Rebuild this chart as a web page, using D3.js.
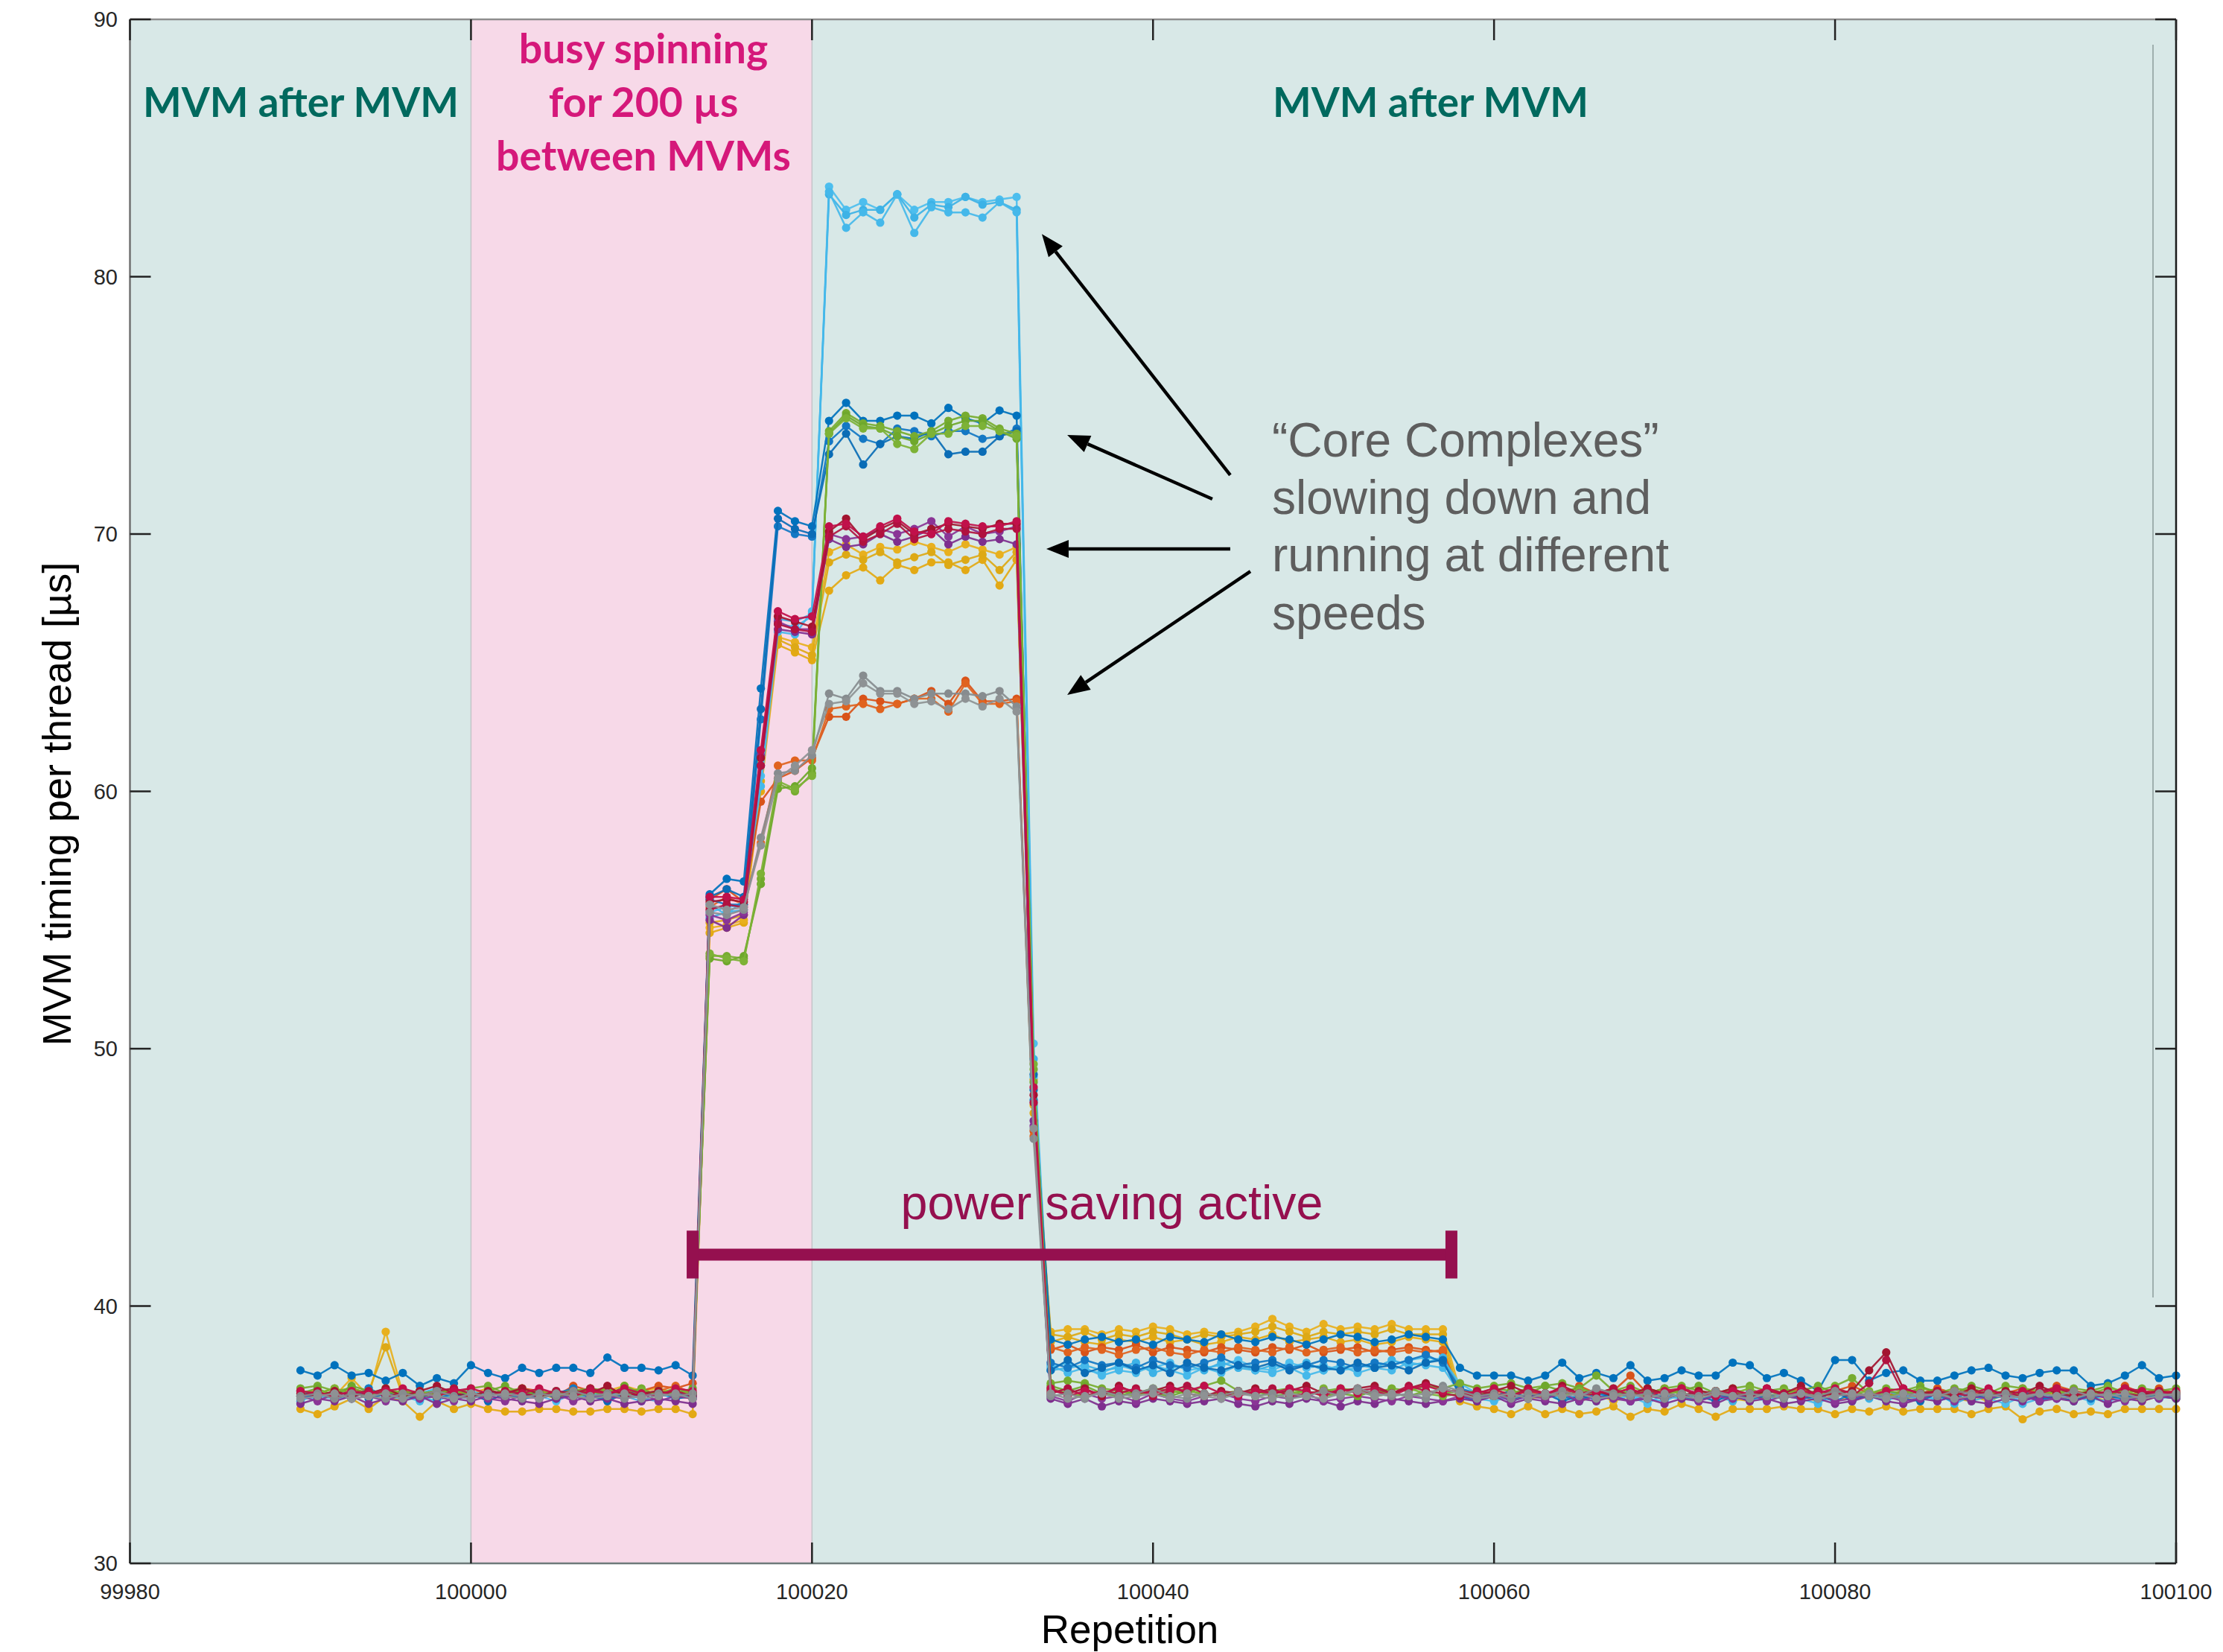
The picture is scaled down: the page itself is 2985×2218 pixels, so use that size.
<!DOCTYPE html>
<html><head><meta charset="utf-8">
<script src="https://cdn.jsdelivr.net/npm/d3@7"></script>
<style>html,body{margin:0;padding:0;background:#fff}svg{display:block}</style>
</head><body>
<script>
// ---------------- DATA ----------------
const repetitions = d3.range(99990, 100101); // 111 repetitions
const xTicks = [99980, 100000, 100020, 100040, 100060, 100080, 100100];
const yTicks = [30, 40, 50, 60, 70, 80, 90];
const spinRegion = [100000, 100020];
const powerSaving = [100013, 100057.5];

// segments: 99990-100013 | 100014-100020 | 100021-100032 | 100033 | 100034-100057 | 100058-100100
const cyanA = [36.5,36.4,36.7,36.5,36.8,36.4, 36.6,36.5,36.3,36.6,36.5,36.7, 36.4,36.6,36.5,36.3,36.6,36.5, 36.7,36.4,36.6,36.5,36.6,36.4,
  55.3,55.5,55.6,60.6,66.5,66.4,66.8,
  83.5,82.6,82.9,82.6,83.2,82.6,82.9,82.9,83.1,82.9,83.0,83.1,
  50.2,
  37.6,37.8,37.5,37.4,37.7,37.5, 37.6,37.8,37.5,37.6,37.7,37.9, 37.6,37.5,37.8,37.6,37.7,37.5, 37.6,37.8,37.7,37.9,38.0,37.9,
  37.0,36.6,36.5,36.4,36.6,36.5, 36.7,36.3,36.6,36.4,36.5,36.2, 36.6,36.5,36.7,36.4,36.6,36.5, 36.3,36.6,36.5,36.4,36.7,36.5, 36.6,36.4,36.5,36.6,36.3,36.5, 36.6,36.4,36.2,36.5,36.6,36.4, 36.5,36.3,36.6,36.5,36.4,36.6, 36.5];
const cyanB = [36.3,36.6,36.4,36.5,36.7,36.5, 36.4,36.6,36.8,36.5,36.4,36.6, 36.5,36.7,36.4,36.6,36.5,36.4, 36.6,36.5,36.3,36.6,36.4,36.5,
  55.1,55.3,55.4,61.0,66.7,66.6,66.9,
  83.2,82.4,82.6,82.6,83.2,82.3,82.8,82.7,83.1,82.8,82.9,82.6,
  49.6,
  37.5,37.6,37.7,37.5,37.6,37.8, 37.4,37.6,37.7,37.5,37.8,37.6, 37.5,37.7,37.6,37.8,37.5,37.6, 37.7,37.6,37.9,37.7,37.8,38.0,
  36.8,36.5,36.6,36.3,36.5,36.6, 36.4,36.5,36.7,36.5,36.3,36.6, 36.5,36.4,36.6,36.5,36.3,36.7, 36.5,36.4,36.6,36.3,36.5,36.6, 36.4,36.7,36.5,36.4,36.6,36.2, 36.5,36.6,36.4,36.5,36.3,36.6, 36.4,36.5,36.6,36.3,36.5,36.4, 36.6];
const cyanC = [36.6,36.5,36.4,36.6,36.5,36.7, 36.5,36.3,36.6,36.4,36.7,36.5, 36.6,36.4,36.5,36.7,36.4,36.6, 36.5,36.6,36.4,36.3,36.5,36.6,
  55.6,55.2,55.8,60.2,66.2,66.1,67.0,
  83.3,81.9,82.5,82.1,83.2,81.7,82.7,82.5,82.5,82.3,82.9,82.5,
  48.9,
  37.7,37.4,37.6,37.3,37.5,37.4, 37.7,37.5,37.3,37.6,37.4,37.7, 37.5,37.4,37.6,37.3,37.5,37.7, 37.4,37.6,37.5,37.8,37.7,37.6,
  36.6,36.4,36.3,36.5,36.4,36.6, 36.5,36.7,36.3,36.6,36.5,36.4, 36.3,36.6,36.4,36.5,36.6,36.3, 36.6,36.5,36.4,36.2,36.6,36.4, 36.5,36.3,36.6,36.5,36.4,36.6, 36.3,36.5,36.6,36.2,36.4,36.5, 36.6,36.4,36.3,36.5,36.6,36.4, 36.5];
const blueA = [37.5,37.3,37.7,37.3,37.4,37.1, 37.4,36.9,37.2,37.0,37.7,37.4, 37.2,37.6,37.4,37.6,37.6,37.4, 38.0,37.6,37.6,37.5,37.7,37.3,
  56.0,56.6,56.5,64.0,70.9,70.5,70.3,
  74.4,75.1,74.4,74.4,74.6,74.6,74.3,74.9,74.5,74.3,74.8,74.6,
  48.4,
  38.7,38.5,38.7,38.8,38.6,38.7, 38.5,38.8,38.7,38.6,38.9,38.7, 38.6,38.8,38.7,38.5,38.7,38.9, 38.8,38.6,38.7,38.9,38.8,38.7,
  37.6,37.3,37.3,37.3,37.1,37.3, 37.8,37.2,37.4,37.2,37.7,37.1, 37.2,37.5,37.3,37.3,37.8,37.7, 37.2,37.4,37.1,36.7,37.9,37.9, 37.1,37.4,37.5,37.1,37.1,37.3, 37.5,37.6,37.3,37.2,37.4,37.5, 37.5,36.9,37.0,37.3,37.7,37.2, 37.3];
const blueB = [36.7,36.5,36.6,36.4,36.8,36.5, 36.6,36.7,36.4,36.6,36.5,36.7, 36.6,36.4,36.5,36.6,36.8,36.5, 36.4,36.6,36.7,36.5,36.6,36.5,
  55.8,55.6,55.6,62.8,70.3,70.0,69.9,
  73.6,74.2,73.7,73.5,74.1,74.0,73.8,74.0,74.0,73.7,73.8,74.1,
  48.0,
  37.8,37.6,37.9,37.7,37.8,37.6, 37.9,37.7,37.6,37.8,38.0,37.7, 37.8,37.9,37.6,37.7,37.9,37.8, 37.6,37.8,37.7,37.9,38.1,37.8,
  36.8,36.6,36.5,36.7,36.4,36.6, 36.5,36.3,36.6,36.5,36.7,36.4, 36.6,36.5,36.3,36.6,36.4,36.5, 36.7,36.6,36.4,36.5,36.3,36.6, 36.5,36.4,36.6,36.7,36.5,36.3, 36.6,36.4,36.5,36.6,36.3,36.5, 36.7,36.4,36.6,36.5,36.4,36.6, 36.5];
const blueC = [36.4,36.6,36.5,36.7,36.4,36.6, 36.5,36.4,36.7,36.5,36.6,36.3, 36.6,36.5,36.7,36.4,36.6,36.5, 36.3,36.6,36.5,36.7,36.4,36.5,
  55.9,56.2,55.9,63.2,70.6,70.2,70.0,
  73.1,73.9,72.7,73.5,73.8,73.7,74.0,73.1,73.2,73.2,73.8,74.0,
  49.0,
  37.5,37.9,37.4,37.6,37.8,37.5, 37.7,37.4,37.8,37.6,37.5,37.7, 37.6,37.8,37.5,37.7,37.6,37.5, 37.8,37.6,37.7,37.5,37.8,37.9,
  36.5,36.3,36.6,36.4,36.5,36.6, 36.3,36.5,36.4,36.6,36.5,36.7, 36.4,36.6,36.5,36.3,36.6,36.4, 36.5,36.6,36.4,36.5,36.7,36.3, 36.6,36.5,36.4,36.3,36.6,36.5, 36.4,36.6,36.5,36.7,36.4,36.5, 36.3,36.6,36.5,36.4,36.6,36.5, 36.4];
const greenA = [36.8,36.9,36.7,36.8,36.6,36.7, 36.5,36.6,36.7,36.6,36.8,36.9, 36.6,36.7,36.5,36.6,36.7,36.8, 36.7,36.6,36.8,36.5,36.7,36.6,
  53.6,53.6,53.5,56.6,60.3,60.0,60.7,
  74.0,74.7,74.3,74.2,74.0,73.8,74.0,74.4,74.6,74.5,74.1,73.9,
  49.2,
  37.0,37.1,37.0,36.8,36.7,36.6, 36.8,36.7,36.6,36.9,37.1,36.7, 36.6,36.7,36.8,36.6,36.7,36.8, 36.7,36.6,36.8,36.7,36.9,36.8,
  37.0,36.8,36.9,37.0,36.8,36.9, 37.0,36.8,37.3,36.7,36.9,36.6, 36.8,36.9,36.7,36.6,36.8,36.9, 36.7,36.8,36.6,36.7,36.9,37.2, 36.6,36.8,36.7,36.9,36.6,36.8, 36.7,36.6,36.9,36.8,36.7,36.6, 36.8,36.7,36.9,36.6,36.8,36.7, 36.8];
const greenB = [36.6,36.8,36.5,36.9,36.7,36.6, 36.7,36.5,36.6,36.8,36.5,36.7, 36.9,36.6,36.7,36.5,36.6,36.7, 36.5,36.9,36.6,36.7,36.6,36.8,
  53.5,53.4,53.6,56.4,60.1,60.2,60.9,
  73.9,74.6,74.2,74.1,73.8,73.6,73.9,74.2,74.4,74.4,74.0,73.7,
  48.7,
  36.9,36.7,36.9,36.6,36.5,36.7, 36.6,36.5,36.7,36.6,36.5,36.6, 36.7,36.5,36.6,36.7,36.5,36.6, 36.5,36.7,36.6,36.5,36.7,36.6,
  36.7,36.6,36.8,36.7,36.6,36.9, 36.7,36.8,36.6,36.7,36.5,36.8, 36.6,36.7,36.9,36.6,36.7,36.5, 36.8,36.6,36.7,36.9,36.6,36.7, 36.5,36.7,36.6,36.8,36.7,36.6, 36.9,36.7,36.6,36.5,36.7,36.8, 36.6,36.7,36.5,36.8,36.6,36.7, 36.6];
const greenC = [36.7,36.6,36.8,36.6,36.5,36.8, 36.6,36.7,36.5,36.7,36.6,36.5, 36.7,36.8,36.6,36.7,36.5,36.6, 36.8,36.5,36.7,36.6,36.8,36.6,
  53.7,53.5,53.4,56.8,60.4,60.1,60.6,
  73.9,74.5,74.1,74.1,73.5,73.3,73.9,73.9,74.2,74.2,74.0,73.8,
  49.4,
  36.8,36.6,36.5,36.7,36.6,36.5, 36.7,36.6,36.8,36.5,36.6,36.7, 36.5,36.6,36.7,36.5,36.8,36.6, 36.7,36.5,36.6,36.8,36.6,36.5,
  36.6,36.7,36.5,36.6,36.8,36.6, 36.5,36.7,36.6,36.8,36.6,36.5, 36.7,36.6,36.5,36.7,36.6,36.8, 36.5,36.7,36.6,36.5,36.8,36.6, 36.7,36.5,36.6,36.7,36.5,36.6, 36.8,36.6,36.7,36.5,36.6,36.7, 36.5,36.6,36.8,36.7,36.5,36.6, 36.7];
const yellowA = [36.0,35.8,36.1,36.4,36.0,36.5, 36.3,35.7,36.3,36.0,36.2,36.0, 35.9,35.9,36.0,36.0,35.9,35.9, 36.0,36.0,35.9,36.0,36.0,35.8,
  54.5,54.7,54.9,60.0,65.7,65.4,65.1,
  67.8,68.4,68.7,68.2,68.8,68.6,68.9,68.9,68.6,69.0,68.0,69.0,
  48.8,
  38.6,38.8,38.6,38.5,38.7,38.6, 38.8,38.6,38.7,38.5,38.6,38.8, 38.7,38.9,38.6,38.7,38.8,38.6, 38.7,38.5,38.6,38.8,38.7,38.6,
  36.3,36.1,36.0,35.8,36.1,35.8, 36.0,35.8,35.9,36.1,35.7,36.0, 35.9,36.2,36.0,35.7,36.0,36.0, 36.0,36.1,36.0,36.0,35.8,36.0, 35.9,36.1,35.9,36.0,36.0,36.0, 35.8,36.0,36.1,35.6,35.9,36.0, 35.8,35.9,35.8,36.0,36.0,36.0, 36.0];
const yellowB = [36.6,36.7,36.5,37.2,36.5,39.0, 36.6,36.5,36.7,36.4,36.6,36.8, 36.5,36.7,36.6,36.5,36.8,36.6, 36.7,36.9,36.7,36.8,36.6,36.5,
  54.7,54.8,55.0,61.2,66.0,65.8,65.6,
  69.3,69.6,69.2,69.5,69.4,69.7,69.5,69.3,69.6,69.4,69.2,69.5,
  47.8,
  39.0,39.1,39.1,38.9,39.1,39.0, 39.2,39.1,38.9,39.0,38.9,39.0, 39.2,39.5,39.2,39.0,39.3,39.1, 39.2,39.1,39.3,39.1,39.1,39.1,
  36.7,36.5,36.6,36.4,36.5,36.6, 36.5,36.4,36.6,36.3,36.5,36.6, 36.4,36.5,36.7,36.5,36.4,36.3, 36.6,36.5,36.4,36.6,36.3,36.5, 36.6,36.4,36.5,36.7,36.5,36.4, 36.3,36.5,36.6,36.4,36.5,36.6, 36.4,36.5,36.3,36.6,36.5,36.4, 36.6];
const yellowC = [36.5,36.6,36.8,36.6,36.7,38.4, 36.5,36.6,36.4,36.7,36.5,36.6, 36.7,36.5,36.6,36.4,36.7,36.5, 36.6,36.5,36.7,36.6,36.5,36.4,
  54.9,55.0,55.2,60.4,65.9,65.6,65.3,
  68.9,69.2,69.0,69.3,68.9,69.1,69.3,68.8,69.0,69.2,68.6,69.3,
  47.5,
  38.9,38.8,39.0,38.7,38.9,38.8, 39.0,38.9,38.7,38.9,38.8,38.9, 39.0,39.2,39.0,38.8,39.0,38.9, 39.0,38.9,39.1,38.9,38.9,38.9,
  36.4,36.6,36.5,36.7,36.4,36.5, 36.6,36.3,36.5,36.4,36.6,36.5, 36.7,36.4,36.5,36.6,36.3,36.5, 36.4,36.6,36.5,36.3,36.6,36.4, 36.5,36.6,36.4,36.5,36.7,36.4, 36.5,36.3,36.6,36.5,36.4,36.6, 36.5,36.4,36.6,36.5,36.3,36.5, 36.4];
const orangeA = [36.7,36.5,36.6,36.8,36.6,36.5, 36.7,36.6,36.5,36.6,36.4,36.7, 36.6,36.8,36.7,36.5,36.9,36.7, 36.8,36.6,36.7,36.9,36.8,37.0,
  55.8,56.2,55.7,59.6,60.5,60.8,61.3,
  62.9,62.9,63.6,63.5,63.4,63.6,63.9,63.4,64.3,63.5,63.5,63.6,
  46.8,
  38.3,38.5,38.2,38.4,38.3,38.5, 38.2,38.4,38.3,38.2,38.4,38.3, 38.2,38.4,38.3,38.5,38.2,38.3, 38.4,38.2,38.3,38.4,38.3,38.2,
  36.6,36.5,36.7,36.6,36.8,36.6, 36.5,36.9,36.6,36.7,37.3,36.6, 36.8,36.6,36.5,36.7,36.6,36.5, 36.7,36.6,36.8,36.5,36.7,36.9, 36.6,36.5,36.7,36.6,36.8,36.6, 36.5,36.7,36.6,36.8,36.6,36.9, 36.7,36.6,36.5,36.9,36.6,36.8, 36.6];
const orangeB = [36.6,36.4,36.5,36.5,36.7,36.6, 36.4,36.5,36.6,36.7,36.5,36.6, 36.5,36.4,36.7,36.6,36.5,36.8, 36.6,36.8,36.5,36.7,36.9,36.6,
  55.5,55.9,55.6,58.0,61.0,61.2,61.2,
  63.2,63.3,63.4,63.2,63.4,63.6,63.6,63.1,64.2,63.4,63.4,63.5,
  46.6,
  38.4,38.2,38.4,38.3,38.1,38.3, 38.4,38.2,38.1,38.3,38.2,38.4, 38.3,38.2,38.4,38.2,38.3,38.4, 38.2,38.3,38.2,38.3,38.2,38.3,
  36.5,36.6,36.4,36.5,36.7,36.5, 36.6,36.4,36.5,36.6,36.8,36.5, 36.4,36.6,36.5,36.7,36.4,36.6, 36.5,36.4,36.6,36.5,36.7,36.5, 36.6,36.7,36.5,36.4,36.6,36.5, 36.7,36.5,36.6,36.4,36.5,36.7, 36.5,36.6,36.4,36.5,36.7,36.5, 36.6];
const purpleA = [36.2,36.4,36.3,36.5,36.2,36.4, 36.3,36.5,36.2,36.4,36.3,36.5, 36.4,36.3,36.2,36.4,36.5,36.3, 36.4,36.2,36.3,36.4,36.3,36.2,
  55.0,54.7,55.2,61.0,66.3,66.2,66.1,
  69.8,69.5,69.6,70.0,69.7,69.9,70.2,69.6,69.9,69.7,69.8,69.6,
  47.2,
  36.4,36.2,36.4,36.1,36.3,36.2, 36.4,36.3,36.2,36.3,36.4,36.2, 36.1,36.3,36.2,36.4,36.3,36.1, 36.3,36.2,36.4,36.3,36.2,36.3,
  36.4,36.3,36.5,36.2,36.4,36.3, 36.2,36.4,36.3,36.5,36.3,36.4, 36.2,36.4,36.3,36.2,36.5,36.3, 36.4,36.2,36.3,36.4,36.2,36.3, 36.5,36.3,36.2,36.4,36.3,36.5, 36.3,36.2,36.4,36.3,36.5,36.4, 36.3,36.5,36.2,36.4,36.3,36.5, 36.4];
const purpleB = [36.5,36.3,36.6,36.4,36.5,36.3, 36.6,36.4,36.5,36.3,36.6,36.4, 36.3,36.5,36.4,36.6,36.3,36.5, 36.5,36.4,36.6,36.3,36.5,36.4,
  55.2,55.0,55.3,61.4,66.6,66.3,66.3,
  70.0,69.8,69.9,70.2,70.0,70.2,70.5,69.9,70.3,70.0,70.1,70.3,
  47.0,
  36.5,36.3,36.6,36.4,36.5,36.3, 36.6,36.4,36.3,36.5,36.6,36.4, 36.3,36.5,36.4,36.6,36.3,36.4, 36.5,36.4,36.3,36.5,36.4,36.3,
  36.5,36.4,36.6,36.3,36.5,36.4, 36.6,36.3,36.5,36.4,36.3,36.5, 36.4,36.6,36.3,36.5,36.4,36.6, 36.3,36.5,36.4,36.6,36.3,36.4, 36.6,36.5,36.3,36.4,36.6,36.3, 36.5,36.4,36.6,36.5,36.3,36.4, 36.5,36.6,36.4,36.3,36.5,36.4, 36.6];
const maroonA = [36.6,36.5,36.7,36.5,36.6,36.8, 36.5,36.7,36.9,36.6,36.5,36.7, 36.6,36.8,36.6,36.5,36.7,36.6, 36.9,36.5,36.6,36.7,36.5,36.6,
  55.7,55.8,55.7,61.3,66.8,66.6,66.4,
  70.1,70.6,69.8,70.2,70.5,70.0,70.2,70.4,70.3,70.2,70.4,70.4,
  48.2,
  36.7,36.6,36.8,36.5,36.9,36.6, 36.7,36.9,36.6,36.5,36.7,36.6, 36.8,36.6,36.7,36.9,36.6,36.7, 36.8,36.9,36.6,36.8,37.0,36.8,
  36.6,36.5,36.7,36.9,36.6,36.5, 36.9,36.6,36.7,36.5,36.6,36.8, 36.6,36.5,36.7,36.6,36.8,36.5, 36.7,36.6,36.9,36.5,36.6,36.7, 37.5,38.2,36.8,36.6,36.7,36.5, 36.8,36.5,36.7,36.6,36.9,36.6, 36.5,36.7,36.6,36.8,36.6,36.7, 36.6];
const maroonB = [36.5,36.7,36.4,36.6,36.7,36.5, 36.6,36.5,36.7,36.8,36.6,36.5, 36.7,36.6,36.5,36.7,36.6,36.8, 36.6,36.7,36.5,36.6,36.7,36.5,
  55.4,55.6,55.5,61.0,66.5,66.3,66.2,
  69.9,70.3,69.7,70.0,70.4,69.8,70.0,70.2,70.1,70.0,70.2,70.2,
  47.9,
  36.6,36.8,36.5,36.7,36.6,36.8, 36.5,36.7,36.9,36.6,36.5,36.7, 36.6,36.8,36.5,36.6,36.7,36.6, 36.7,36.8,36.6,36.9,36.7,36.6,
  36.5,36.7,36.6,36.5,36.8,36.6, 36.7,36.5,36.6,36.8,36.5,36.7, 36.6,36.8,36.5,36.7,36.6,36.5, 36.8,36.6,36.5,36.7,36.6,36.5, 37.0,37.9,36.6,36.5,36.7,36.6, 36.5,36.7,36.6,36.5,36.7,36.8, 36.6,36.5,36.7,36.6,36.5,36.7, 36.5];
const maroonC = [36.7,36.6,36.5,36.7,36.6,36.7, 36.8,36.6,36.5,36.7,36.8,36.6, 36.5,36.6,36.8,36.6,36.5,36.7, 36.6,36.8,36.6,36.5,36.8,36.7,
  55.9,55.9,55.8,61.6,67.0,66.7,66.8,
  70.3,70.4,69.9,70.3,70.6,70.1,70.0,70.5,70.4,70.3,70.3,70.5,
  48.5,
  36.8,36.5,36.7,36.6,36.8,36.7, 36.6,36.8,36.7,36.9,36.6,36.5, 36.7,36.6,36.8,36.7,36.5,36.8, 36.6,36.7,36.5,36.8,36.9,36.7,
  36.7,36.6,36.8,36.5,36.7,36.6, 36.8,36.6,36.7,36.6,36.8,36.5, 36.7,36.8,36.6,36.5,36.7,36.6, 36.8,36.5,36.7,36.6,36.8,36.6, 36.5,36.7,36.8,36.6,36.5,36.7, 36.6,36.8,36.5,36.7,36.6,36.8, 36.7,36.5,36.6,36.8,36.7,36.6, 36.7];
const greyA = [36.5,36.6,36.4,36.6,36.5,36.4, 36.6,36.5,36.7,36.5,36.4,36.6, 36.5,36.4,36.6,36.5,36.7,36.5, 36.6,36.4,36.5,36.6,36.5,36.6,
  55.3,55.2,55.4,58.2,60.7,60.8,61.4,
  63.8,63.6,64.5,63.9,63.9,63.6,63.8,63.8,63.8,63.7,63.9,63.3,
  46.5,
  36.5,36.6,36.4,36.7,36.5,36.6, 36.8,36.5,36.4,36.6,36.5,36.7, 36.5,36.6,36.4,36.5,36.7,36.5, 36.8,36.6,36.5,36.6,36.4,36.9,
  36.7,36.5,36.6,36.4,36.6,36.5, 36.7,36.5,36.8,36.6,36.5,36.6, 36.4,36.6,36.5,36.7,36.5,36.6, 36.5,36.4,36.6,36.5,36.7,36.5, 36.6,36.5,36.4,36.6,36.5,36.7, 36.6,36.5,36.6,36.4,36.6,36.5, 36.7,36.5,36.6,36.4,36.5,36.6, 36.5];
const greyB = [36.4,36.5,36.6,36.4,36.5,36.6, 36.4,36.6,36.5,36.4,36.6,36.5, 36.6,36.5,36.4,36.6,36.5,36.4, 36.5,36.6,36.4,36.5,36.6,36.4,
  55.6,55.4,55.5,57.9,60.5,61.0,61.6,
  63.4,63.5,64.2,63.8,63.8,63.4,63.5,63.2,63.6,63.3,63.6,63.1,
  46.9,
  36.6,36.4,36.5,36.6,36.4,36.5, 36.6,36.4,36.6,36.5,36.4,36.6, 36.5,36.4,36.6,36.5,36.4,36.6, 36.7,36.5,36.6,36.5,36.6,36.8,
  36.6,36.4,36.5,36.6,36.4,36.6, 36.5,36.6,36.4,36.5,36.6,36.4, 36.6,36.5,36.4,36.6,36.5,36.4, 36.6,36.5,36.6,36.4,36.5,36.6, 36.5,36.4,36.6,36.5,36.6,36.4, 36.5,36.6,36.4,36.5,36.6,36.5, 36.4,36.6,36.5,36.6,36.4,36.5, 36.6];

const series = [
  {name: "yellowA", color: "#E3A914", values: yellowA},
  {name: "yellowB", color: "#E8B01E", values: yellowB},
  {name: "yellowC", color: "#DDA915", values: yellowC},
  {name: "orangeA", color: "#D95319", values: orangeA},
  {name: "orangeB", color: "#E0631F", values: orangeB},
  {name: "cyanA",   color: "#4DBEEE", values: cyanA},
  {name: "cyanB",   color: "#3DB2E6", values: cyanB},
  {name: "cyanC",   color: "#45B8EA", values: cyanC},
  {name: "blueA",   color: "#0072BD", values: blueA},
  {name: "blueB",   color: "#1478C4", values: blueB},
  {name: "blueC",   color: "#0A6CB6", values: blueC},
  {name: "purpleA", color: "#7E2F8E", values: purpleA},
  {name: "purpleB", color: "#8A3596", values: purpleB},
  {name: "greenA",  color: "#77AC30", values: greenA},
  {name: "greenB",  color: "#6FA82C", values: greenB},
  {name: "greenC",  color: "#7DB236", values: greenC},
  {name: "maroonA", color: "#A2142F", values: maroonA},
  {name: "maroonB", color: "#B0123F", values: maroonB},
  {name: "maroonC", color: "#C0104A", values: maroonC},
  {name: "greyA",   color: "#878C8F", values: greyA},
  {name: "greyB",   color: "#8E9294", values: greyB}
];
series.forEach(s => { if (s.values.length !== repetitions.length) console.error(s.name, s.values.length); });

// ---------------- LAYOUT ----------------
const W = 2985, H = 2218;
const L = 174.5, R = 2922, T = 26, B = 2099;
const svg = d3.select("body").append("svg").attr("width", W).attr("height", H);
const x = d3.scaleLinear().domain([99980, 100100]).range([L, R]);
const y = d3.scaleLinear().domain([30, 90]).range([B, T]);

// backgrounds
svg.append("rect").attr("x", L).attr("y", T).attr("width", R - L).attr("height", B - T).attr("fill", "#D8E8E7");
svg.append("rect").attr("x", x(spinRegion[0])).attr("y", T).attr("width", x(spinRegion[1]) - x(spinRegion[0])).attr("height", B - T).attr("fill", "#F7D9E8");
[spinRegion[0], spinRegion[1]].forEach(v => svg.append("line").attr("x1", x(v)).attr("x2", x(v)).attr("y1", T).attr("y2", B).attr("stroke", "#C4C4C8").attr("stroke-width", 1.5));
// stray thin line near right edge
svg.append("line").attr("x1", 2891).attr("x2", 2891).attr("y1", 60).attr("y2", 1742).attr("stroke", "#8C9C9B").attr("stroke-width", 1.5);

// region titles
const tealCol = "#00695E", pinkCol = "#D5187A";
function fit(sel, w) { const n = sel.node(); const c = n.getComputedTextLength(); sel.attr("font-size", parseFloat(sel.attr("font-size")) * w / c); return sel; }
const boldFont = "Lato, 'Open Sans', sans-serif";
fit(svg.append("text").attr("x", 404).attr("y", 157).attr("text-anchor", "middle").attr("font-family", boldFont).attr("font-weight", 700).attr("font-size", 52).attr("fill", tealCol).text("MVM after MVM"), 424);
fit(svg.append("text").attr("x", 1921).attr("y", 157).attr("text-anchor", "middle").attr("font-family", boldFont).attr("font-weight", 700).attr("font-size", 52).attr("fill", tealCol).text("MVM after MVM"), 424);
const pinkLines = [["busy spinning", 85], ["for 200 µs", 157], ["between MVMs", 229]];
const pinkSize = 52;
const tmp = svg.append("text").attr("font-family", boldFont).attr("font-weight", 700).attr("font-size", pinkSize).text("between MVMs");
const pfs = pinkSize * 396 / tmp.node().getComputedTextLength(); tmp.remove();
pinkLines.forEach(([t, yy]) => svg.append("text").attr("x", 864).attr("y", yy).attr("text-anchor", "middle").attr("font-family", boldFont).attr("font-weight", 700).attr("font-size", pfs).attr("fill", pinkCol).text(t));

// series lines + markers
const line = d3.line().x(d => x(d[0])).y(d => y(d[1]));
const gS = svg.append("g");
series.forEach(s => {
  const pts = s.values.map((v, i) => [repetitions[i], v]);
  const g = gS.append("g");
  g.append("path").datum(pts).attr("d", line).attr("fill", "none").attr("stroke", s.color).attr("stroke-width", 2.5).attr("stroke-linejoin", "round").attr("opacity", 0.92);
  g.selectAll("circle").data(pts).join("circle").attr("cx", d => x(d[0])).attr("cy", d => y(d[1])).attr("r", 5.6).attr("fill", s.color);
});

// power saving bracket
const psCol = "#95104F";
const by = y(42);
svg.append("line").attr("x1", x(powerSaving[0])).attr("x2", x(powerSaving[1])).attr("y1", by).attr("y2", by).attr("stroke", psCol).attr("stroke-width", 16);
powerSaving.forEach(v => svg.append("line").attr("x1", x(v)).attr("x2", x(v)).attr("y1", y(42.93)).attr("y2", y(41.07)).attr("stroke", psCol).attr("stroke-width", 16));
fit(svg.append("text").attr("x", 1493).attr("y", 1637).attr("text-anchor", "middle").attr("font-family", "'Liberation Sans', Arial, sans-serif").attr("font-size", 64).attr("fill", psCol).text("power saving active"), 567);

// annotation arrows (data coordinates)
const arrows = [
  {from: [100044.53, 72.29], to: [100033.48, 81.66]},
  {from: [100043.48, 71.36], to: [100034.97, 73.85]},
  {from: [100044.53, 69.42], to: [100033.74, 69.42]},
  {from: [100045.71, 68.55], to: [100034.97, 63.75]}
];
arrows.forEach(a => {
  const x1 = x(a.from[0]), y1 = y(a.from[1]), x2 = x(a.to[0]), y2 = y(a.to[1]);
  const ang = Math.atan2(y2 - y1, x2 - x1), hl = 30, hw = 12;
  const bx = x2 - hl * Math.cos(ang), byy = y2 - hl * Math.sin(ang);
  svg.append("line").attr("x1", x1).attr("y1", y1).attr("x2", bx).attr("y2", byy).attr("stroke", "#000").attr("stroke-width", 4.5);
  const p = [[x2, y2], [bx + hw * Math.sin(ang), byy - hw * Math.cos(ang)], [bx - hw * Math.sin(ang), byy + hw * Math.cos(ang)]];
  svg.append("polygon").attr("points", p.map(q => q.join(",")).join(" ")).attr("fill", "#000");
});
const annLines = [["“Core Complexes”", 613], ["slowing down and", 690], ["running at different", 767], ["speeds", 845]];
const tmp2 = svg.append("text").attr("font-family", "'Liberation Sans', Arial, sans-serif").attr("font-size", 64).text("running at different");
const afs = 64 * 533 / tmp2.node().getComputedTextLength(); tmp2.remove();
annLines.forEach(([t, yy]) => svg.append("text").attr("x", 1708).attr("y", yy).attr("font-family", "'Liberation Sans', Arial, sans-serif").attr("font-size", afs).attr("fill", "#5E5E5E").text(t));

// frame and ticks
const ax = svg.append("g");
ax.append("line").attr("x1", L).attr("x2", R).attr("y1", T).attr("y2", T).attr("stroke", "#8E8E8E").attr("stroke-width", 2.5);
ax.append("line").attr("x1", L).attr("x2", R).attr("y1", B).attr("y2", B).attr("stroke", "#6E7A7A").attr("stroke-width", 2.5);
ax.append("line").attr("x1", L).attr("x2", L).attr("y1", T).attr("y2", B).attr("stroke", "#707070").attr("stroke-width", 2.5);
ax.append("line").attr("x1", R).attr("x2", R).attr("y1", T).attr("y2", B).attr("stroke", "#1A1A1A").attr("stroke-width", 2.5);
const tl = 28, tickCol = "#222";
xTicks.forEach(v => {
  ax.append("line").attr("x1", x(v)).attr("x2", x(v)).attr("y1", B).attr("y2", B - tl).attr("stroke", tickCol).attr("stroke-width", 2.5);
  ax.append("line").attr("x1", x(v)).attr("x2", x(v)).attr("y1", T).attr("y2", T + tl).attr("stroke", tickCol).attr("stroke-width", 2.5);
  ax.append("text").attr("x", x(v)).attr("y", 2147).attr("text-anchor", "middle").attr("font-family", "'Liberation Sans', Arial, sans-serif").attr("font-size", 29).attr("fill", "#262626").text(v);
});
yTicks.forEach(v => {
  ax.append("line").attr("x1", L).attr("x2", L + tl).attr("y1", y(v)).attr("y2", y(v)).attr("stroke", tickCol).attr("stroke-width", 2.5);
  ax.append("line").attr("x1", R).attr("x2", R - tl).attr("y1", y(v)).attr("y2", y(v)).attr("stroke", tickCol).attr("stroke-width", 2.5);
  ax.append("text").attr("x", 158).attr("y", y(v) + 10).attr("text-anchor", "end").attr("font-family", "'Liberation Sans', Arial, sans-serif").attr("font-size", 29).attr("fill", "#262626").text(v);
});

// axis titles
svg.append("text").attr("x", 1517).attr("y", 2206).attr("text-anchor", "middle").attr("font-family", "'Liberation Sans', Arial, sans-serif").attr("font-size", 53).attr("fill", "#000").text("Repetition");
svg.append("text").attr("transform", `translate(95,${(T + B) / 2 + 17}) rotate(-90)`).attr("text-anchor", "middle").attr("font-family", "'Liberation Sans', Arial, sans-serif").attr("font-size", 54).attr("fill", "#000").text("MVM timing per thread [µs]");
</script>
</body></html>
